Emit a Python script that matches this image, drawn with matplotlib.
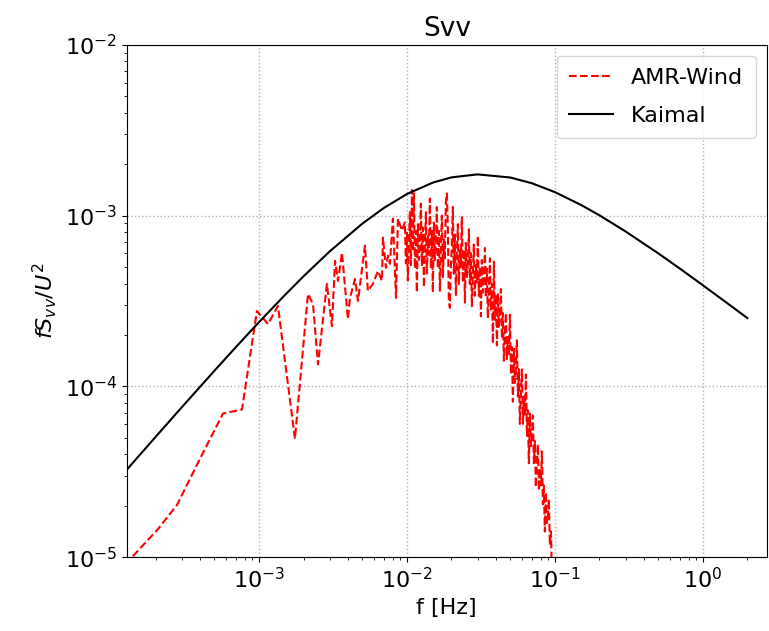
import matplotlib.pyplot as plt
import numpy as np

#######################
# data
#######################
# AMR-Wind spectrum, stored as log10 values (f in Hz, fSvv/U^2)
log_f_amr = [-3.939, -3.865, -3.682, -3.554, -3.399, -3.243, -3.115, -3.014,
             -2.939, -2.872, -2.757, -2.669, -2.635, -2.601, -2.541, -2.507,
             -2.486, -2.466, -2.439, -2.399, -2.385, -2.351, -2.331, -2.284,
             -2.264, -2.230, -2.196, -2.169, -2.162, -2.142, -2.128, -2.115,
             -2.095, -2.074, -2.061, -2.034,
             -2.014, -2.007, -2.000, -1.994, -1.987, -1.980, -1.973, -1.966,
             -1.960, -1.953, -1.946, -1.939, -1.933, -1.926, -1.919, -1.912,
             -1.906, -1.899, -1.892, -1.885, -1.879, -1.872, -1.865, -1.858,
             -1.852, -1.845, -1.838, -1.831, -1.825, -1.818, -1.811, -1.804,
             -1.798, -1.791, -1.784, -1.777, -1.771, -1.764, -1.757, -1.750,
             -1.744, -1.737, -1.730, -1.723, -1.717, -1.710, -1.703, -1.696,
             -1.690, -1.683, -1.676, -1.669, -1.663, -1.656, -1.649, -1.642,
             -1.636, -1.629, -1.622, -1.615, -1.608, -1.602, -1.595, -1.588,
             -1.581, -1.575, -1.568, -1.561, -1.554, -1.548, -1.541, -1.534,
             -1.527, -1.521, -1.514, -1.507, -1.500, -1.494, -1.487, -1.480,
             -1.473, -1.467, -1.460, -1.453, -1.446, -1.439, -1.433, -1.426,
             -1.419, -1.412, -1.406, -1.399, -1.392, -1.385, -1.379, -1.372,
             -1.365, -1.358, -1.352, -1.345, -1.338, -1.331, -1.325, -1.318,
             -1.311, -1.304, -1.297, -1.291, -1.284, -1.277, -1.270, -1.264,
             -1.257, -1.250, -1.243, -1.237, -1.230, -1.223, -1.216, -1.210,
             -1.203, -1.196, -1.189, -1.183, -1.176, -1.169, -1.162, -1.156,
             -1.149, -1.142, -1.135, -1.129, -1.122, -1.115, -1.108, -1.102,
             -1.095, -1.088, -1.081, -1.075, -1.068, -1.061, -1.054, -1.047,
             -1.041, -1.034, -1.027, -1.020, -1.014,
             -1.000, -0.966]
log_s_amr = [-5.100, -5.006, -4.835, -4.694, -4.424, -4.159, -4.135, -3.559,
             -3.635, -3.529, -4.306, -3.459, -3.518, -3.871, -3.400, -3.647,
             -3.265, -3.382, -3.218, -3.606, -3.482, -3.371, -3.500, -3.176,
             -3.441, -3.400, -3.324, -3.382, -3.129, -3.306, -3.235, -3.282,
             -3.018, -3.482, -3.018, -3.088,
             -3.04, -3.28, -3.10, -3.38, -3.16, -2.98, -3.29, -2.85,
             -3.21, -2.87, -3.31, -3.09, -3.45, -3.05, -3.26, -3.16,
             -2.93, -3.29, -3.07, -3.42, -3.18, -2.98, -3.34, -3.12,
             -3.23, -2.90, -3.31, -3.09, -3.45, -3.04, -3.26, -3.15,
             -2.95, -3.31, -3.09, -3.44, -3.20, -3.00, -3.36, -3.14,
             -3.25, -2.92, -2.87, -3.10, -3.50, -3.54, -3.29, -3.18,
             -2.95, -3.34, -3.11, -3.47, -3.23, -3.05, -3.40, -3.19,
             -3.30, -3.01, -3.39, -3.20, -3.51, -3.16, -3.36, -3.27,
             -3.08, -3.40, -3.22, -3.53, -3.32, -3.17, -3.47, -3.29,
             -3.39, -3.12, -3.47, -3.30, -3.59, -3.26, -3.45, -3.36,
             -3.19, -3.48, -3.31, -3.60, -3.41, -3.25, -3.55, -3.40,
             -3.75, -3.27, -3.61, -3.46, -3.76, -3.46, -3.65, -3.58,
             -3.43, -3.72, -3.57, -3.85, -3.69, -3.57, -3.84, -3.71,
             -3.82, -3.58, -3.93, -3.77, -4.09, -3.78, -3.98, -3.90,
             -3.73, -4.06, -3.90, -4.22, -4.04, -3.90, -4.22, -4.06,
             -4.17, -3.93, -4.29, -4.14, -4.45, -4.16, -4.35, -4.30,
             -4.17, -4.45, -4.32, -4.59, -4.45, -4.34, -4.61, -4.48,
             -4.58, -4.38, -4.69, -4.58, -4.85, -4.62, -4.80, -4.76,
             -4.66, -4.93, -4.85, -5.10, -5.03,
             -5.118, -5.265]

# Kaimal curve
f_kaimal = [1e-4, 1.5e-4, 2e-4, 3e-4, 5e-4, 7e-4, 1e-3, 1.5e-3, 2e-3, 3e-3,
            5e-3, 7e-3, 1e-2, 1.5e-2, 2e-2, 3e-2, 5e-2, 7e-2, 0.1, 0.15,
            0.2, 0.3, 0.5, 0.7, 1.0, 1.5, 2.0]
s_kaimal = [2.550e-5, 3.809e-5, 5.059e-5, 7.529e-5, 1.235e-4, 1.703e-4,
            2.377e-4, 3.433e-4, 4.412e-4, 6.162e-4, 8.979e-4, 1.110e-3,
            1.338e-3, 1.561e-3, 1.674e-3, 1.743e-3, 1.671e-3, 1.546e-3,
            1.372e-3, 1.155e-3, 1.004e-3, 8.080e-4, 6.008e-4, 4.891e-4,
            3.910e-4, 3.019e-4, 2.511e-4]

f_amr = 10 ** np.array(log_f_amr)
s_amr = 10 ** np.array(log_s_amr)

########
# graphe
########
fig = plt.figure(figsize=(7.69, 6.31), dpi=100)
ax = fig.add_subplot(111)
fig.subplots_adjust(left=0.165, right=0.997, top=0.929, bottom=0.117)

ax.loglog(f_amr, s_amr, 'r--', lw=1.5, label="AMR-Wind")
ax.loglog(f_kaimal, s_kaimal, 'k-', lw=1.5, label="Kaimal")

ax.set_xlim(1.28e-4, 2.7)
ax.set_ylim(1e-5, 1e-2)
ax.grid(linestyle=':', linewidth=1.0)
ax.tick_params(labelsize=16)
ax.set_title("Svv", fontsize=19)
ax.set_xlabel("f [Hz]", fontsize=16)
ax.set_ylabel(r"$fS_{vv}/U^2$", fontsize=16)
ax.legend(loc='upper right', fontsize=16, labelspacing=0.8, borderpad=0.55)

fig.savefig("out.png", dpi=100)
